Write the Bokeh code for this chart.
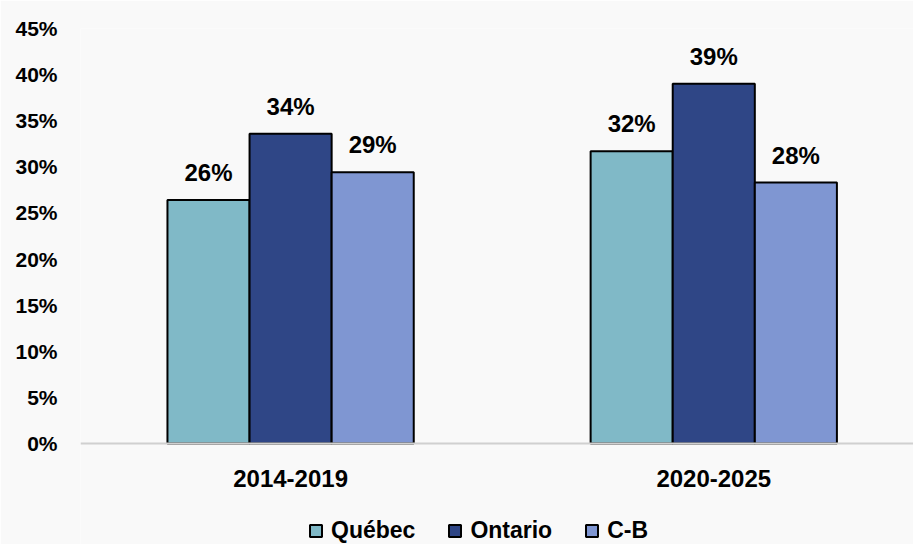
from bokeh.plotting import figure
from bokeh.models import (ColumnDataSource, Range1d, FixedTicker, LabelSet,
                          Legend, LegendItem, NumeralTickFormatter)
from bokeh.core.properties import value
from bokeh.embed import file_html
from bokeh.resources import INLINE

categories = ["2014-2019", "2020-2025"]
series = ["Québec", "Ontario", "C-B"]
quebec = [26.4, 31.7]
ontario = [33.6, 39.0]
cb = [29.4, 28.3]
labels_quebec = ["26%", "32%"]
labels_ontario = ["34%", "39%"]
labels_cb = ["29%", "28%"]
colors = ["#80b9c7", "#2f4686", "#7f96d2"]
y_ticks = [0, 5, 10, 15, 20, 25, 30, 35, 40, 45]

FONT = "Liberation Sans"
BG = "#f9f9f9"

p = figure(frame_width=833, frame_height=516, output_backend="svg", toolbar_location=None,
           x_range=Range1d(0.0035, 1.972), y_range=Range1d(-10.95, 45),
           min_border_left=80, min_border_right=0, min_border_top=28,
           min_border_bottom=0)
p.background_fill_color = BG
p.border_fill_color = BG
p.outline_line_color = None
p.grid.grid_line_color = None

centers = [0.5, 1.5]
bw = 0.194
offsets = [-bw, 0.0, bw]
vals = [quebec, ontario, cb]
labs = [labels_quebec, labels_ontario, labels_cb]
items = []
for name, col, off, v, lb in zip(series, colors, offsets, vals, labs):
    src = ColumnDataSource(dict(x=[c + off for c in centers], top=v, lab=lb))
    r = p.vbar(x="x", top="top", bottom=0, width=bw, source=src, fill_color=col,
               line_color="black", line_width=2)
    items.append(LegendItem(label=name, renderers=[r]))
    ls = LabelSet(x="x", y="top", text="lab", source=src, text_align="center",
                  text_baseline="bottom", y_offset=14, text_font=value(FONT),
                  text_font_style="bold", text_font_size="24px", text_color="black")
    p.add_layout(ls)

# x axis, pinned at y = 0
p.xaxis.fixed_location = 0
p.xaxis.ticker = FixedTicker(ticks=centers)
p.xaxis.major_label_overrides = {0.5: categories[0], 1.5: categories[1]}
p.xaxis.major_tick_line_color = None
p.xaxis.minor_tick_line_color = None
p.xaxis.axis_line_color = "#d0d0d0"
p.xaxis.axis_line_width = 2
p.xaxis.major_label_text_font = FONT
p.xaxis.major_label_text_font_style = "bold"
p.xaxis.major_label_text_font_size = "24px"
p.xaxis.major_label_text_color = "black"
p.xaxis.major_label_standoff = 20

# y axis
p.yaxis.ticker = FixedTicker(ticks=y_ticks)
p.yaxis.formatter = NumeralTickFormatter(format="0")
p.yaxis.major_label_overrides = {t: f"{t}%" for t in y_ticks}
p.yaxis.axis_line_color = None
p.yaxis.major_tick_line_color = None
p.yaxis.minor_tick_line_color = None
p.yaxis.major_label_text_font = FONT
p.yaxis.major_label_text_font_style = "bold"
p.yaxis.major_label_text_font_size = "21px"
p.yaxis.major_label_text_color = "black"
p.yaxis.major_label_standoff = 17

legend = Legend(items=items, orientation="horizontal", location=(228, 0),
                background_fill_alpha=0, border_line_color=None,
                label_text_font=FONT, label_text_font_style="bold",
                label_text_font_size="23px", label_text_color="black",
                label_height=20,
                glyph_width=15, glyph_height=15, spacing=32, label_standoff=8,
                padding=0, margin=0)
p.add_layout(legend, "center")

open("out.html", "w").write(file_html(p, INLINE))
